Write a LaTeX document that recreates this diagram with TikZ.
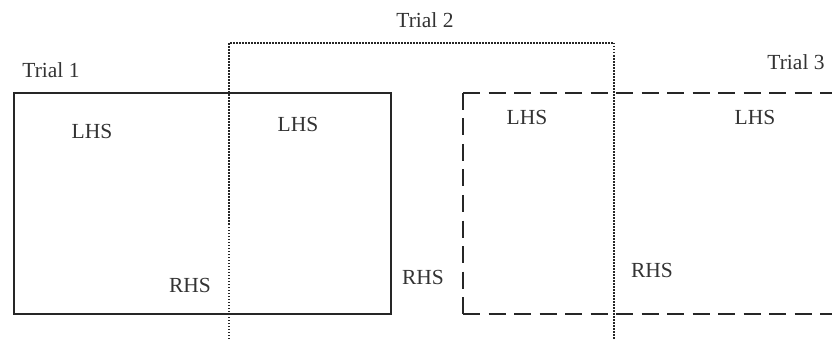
\documentclass[tikz,border=0pt]{standalone}
\usepackage{fontspec}
\setmainfont{Liberation Serif}
\begin{document}
\begin{tikzpicture}[x=1pt,y=-1pt,
  lbl/.style={inner sep=0pt,anchor=base,font=\fontsize{21.5}{25}\selectfont,text=black!80},
  solidbox/.style={line width=2pt,black!85},
  dotbox/.style={line width=2pt,black!85,dash pattern=on 1.5pt off 1.5pt},
  dashbox/.style={line width=2pt,black!85,dash pattern=on 17pt off 8.5pt}]
\useasboundingbox (0,0) rectangle (832,339);
% Trial 1 (solid)
\draw[solidbox] (14,93) rectangle (391,314);
% Trial 2 (dotted, open at bottom)
\draw[dotbox] (229,339) -- (229,43) -- (614,43) -- (614,339);
% Trial 3 (dashed, open at right)
\coordinate (c3tl) at (463,93);
\coordinate (c3bl) at (463,314);
\draw[dashbox] (c3tl) -- (832,93);
\draw[dashbox] (c3tl) -- (c3bl);
\draw[dashbox] (c3bl) -- (832,314);
% labels
\node[lbl] (t1) at (51,78) {Trial 1};
\node[lbl] (t2) at (425,28) {Trial 2};
\node[lbl] (t3) at (796,70) {Trial 3};
\node[lbl] (l1) at (92,139) {LHS};
\node[lbl] (l2) at (298,132) {LHS};
\node[lbl] (l3) at (527,125) {LHS};
\node[lbl] (l4) at (755,125) {LHS};
\node[lbl] (r1) at (190,292) {RHS};
\node[lbl] (r2) at (423,284) {RHS};
\node[lbl] (r3) at (652,277) {RHS};
\end{tikzpicture}
\end{document}
